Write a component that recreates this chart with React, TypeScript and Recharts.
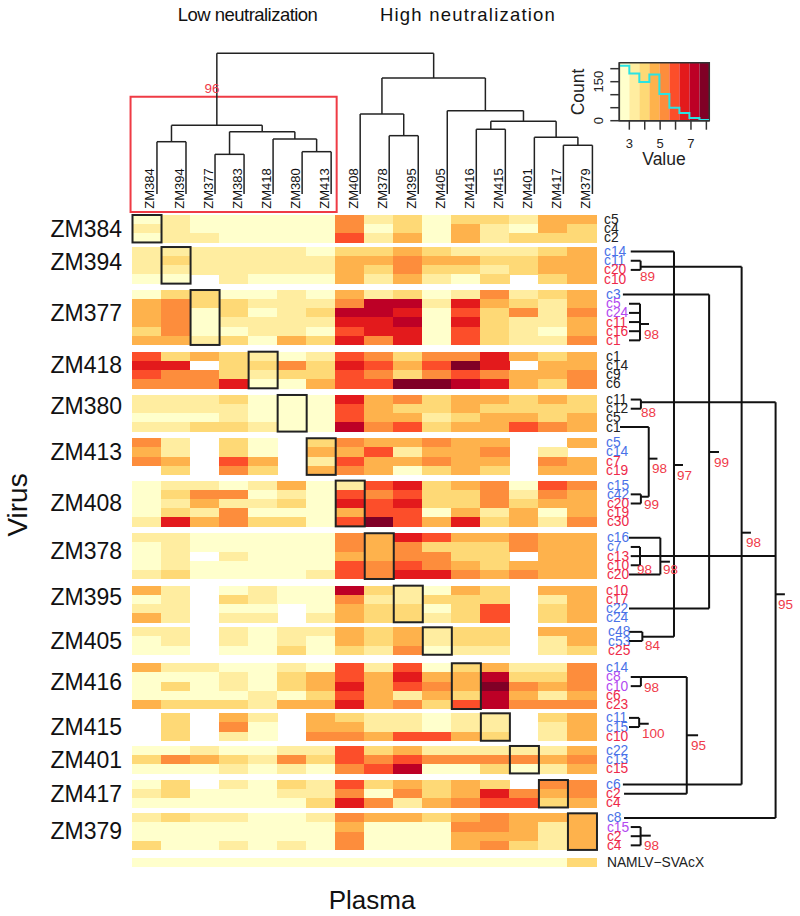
import {
  ComposedChart,
  Line,
  ReferenceArea,
  ReferenceLine,
  Scatter,
  ScatterChart,
  XAxis,
  YAxis,
} from "recharts";

const FONT = '"Liberation Sans", Arial, sans-serif';

// YlOrRd levels, 0 means no measurement (blank cell)
const LEVEL_COLORS = ["#ffffff", "#ffffcc", "#ffeda0", "#fed976", "#feb24c", "#fd8d3c", "#fc4e2a", "#e31a1c", "#bd0026", "#800026"];
const KIND_COLORS: Record<string, string> = { k: "#222222", b: "#4a72e8", r: "#ee2a4a", p: "#b34af0" };

const PLASMA = ["ZM384", "ZM394", "ZM377", "ZM383", "ZM418", "ZM380", "ZM413", "ZM408", "ZM378", "ZM395", "ZM405", "ZM416", "ZM415", "ZM401", "ZM417", "ZM379"];
const VIRUS = ["ZM384", "ZM394", "ZM377", "ZM418", "ZM380", "ZM413", "ZM408", "ZM378", "ZM395", "ZM405", "ZM416", "ZM415", "ZM401", "ZM417", "ZM379"];

const ZM384_VALUES = [
  [1, 2, 1, 1, 1, 1, 1, 5, 2, 3, 1, 3, 3, 2, 4, 4],
  [2, 2, 1, 1, 1, 1, 1, 5, 1, 3, 1, 4, 2, 1, 4, 3],
  [1, 2, 2, 1, 1, 1, 1, 6, 2, 4, 1, 4, 2, 3, 3, 3],
];
const ZM394_VALUES = [
  [2, 2, 2, 2, 2, 2, 1, 3, 3, 4, 3, 2, 2, 2, 3, 4],
  [2, 3, 2, 2, 2, 2, 2, 4, 4, 5, 4, 4, 3, 3, 4, 4],
  [2, 2, 2, 2, 2, 2, 2, 4, 3, 5, 3, 3, 2, 3, 4, 4],
  [1, 1, 0, 2, 1, 1, 1, 4, 2, 4, 2, 1, 3, 0, 3, 4],
];
const ZM377_VALUES = [
  [1, 3, 3, 1, 1, 2, 1, 4, 2, 3, 1, 2, 5, 2, 3, 4],
  [4, 5, 3, 3, 2, 2, 2, 5, 8, 8, 2, 7, 4, 3, 2, 4],
  [4, 5, 1, 3, 1, 2, 3, 8, 8, 7, 1, 6, 3, 5, 2, 5],
  [4, 5, 1, 2, 2, 2, 2, 7, 7, 8, 1, 7, 3, 2, 2, 4],
  [3, 5, 1, 1, 2, 2, 1, 6, 7, 7, 1, 6, 3, 2, 1, 4],
  [4, 4, 2, 3, 1, 4, 3, 7, 5, 7, 1, 6, 3, 2, 2, 5],
];
const ZM418_VALUES = [
  [6, 3, 4, 3, 2, 1, 2, 6, 5, 3, 5, 5, 7, 4, 3, 4],
  [7, 7, 0, 3, 3, 5, 3, 7, 6, 4, 6, 9, 7, 0, 4, 4],
  [6, 5, 5, 3, 2, 3, 3, 6, 5, 3, 5, 6, 5, 4, 4, 5],
  [5, 5, 5, 7, 1, 1, 4, 6, 6, 9, 9, 8, 7, 4, 3, 5],
];
const ZM380_VALUES = [
  [2, 2, 2, 3, 1, 1, 1, 7, 4, 5, 3, 4, 4, 3, 4, 3],
  [2, 2, 2, 2, 1, 1, 1, 6, 4, 3, 3, 4, 3, 3, 3, 3],
  [1, 1, 1, 2, 1, 1, 1, 6, 4, 4, 2, 3, 4, 4, 3, 4],
  [2, 2, 3, 3, 2, 1, 1, 8, 5, 6, 3, 4, 4, 6, 5, 4],
];
const ZM413_VALUES = [
  [5, 2, 0, 3, 1, 0, 3, 5, 4, 4, 5, 4, 4, 0, 0, 4],
  [4, 2, 0, 3, 1, 0, 4, 4, 6, 2, 4, 4, 5, 0, 2, 0],
  [5, 4, 0, 6, 4, 0, 2, 6, 4, 4, 5, 4, 4, 0, 5, 4],
  [0, 3, 0, 5, 3, 0, 4, 5, 4, 1, 3, 4, 3, 0, 4, 4],
];
const ZM408_VALUES = [
  [1, 2, 2, 1, 2, 4, 1, 2, 6, 7, 3, 4, 5, 1, 6, 5],
  [1, 3, 5, 5, 1, 2, 1, 6, 5, 6, 3, 3, 5, 2, 5, 4],
  [1, 2, 4, 2, 2, 3, 1, 7, 6, 7, 3, 3, 5, 3, 4, 4],
  [1, 3, 2, 5, 1, 1, 1, 4, 6, 6, 1, 4, 2, 4, 1, 4],
  [2, 7, 4, 5, 3, 3, 1, 6, 9, 6, 4, 7, 3, 4, 2, 5],
];
const ZM378_VALUES = [
  [2, 2, 1, 1, 1, 1, 1, 5, 4, 7, 6, 4, 4, 5, 4, 4],
  [1, 2, 1, 1, 1, 1, 1, 5, 4, 5, 3, 3, 3, 5, 4, 4],
  [1, 2, 0, 2, 1, 1, 1, 4, 4, 5, 5, 3, 3, 0, 4, 4],
  [1, 2, 1, 1, 1, 1, 1, 6, 5, 6, 5, 4, 3, 4, 4, 4],
  [2, 3, 1, 1, 1, 1, 2, 6, 5, 7, 7, 5, 4, 5, 4, 4],
];
const ZM395_VALUES = [
  [4, 2, 0, 1, 2, 1, 1, 8, 3, 2, 1, 4, 3, 0, 4, 4],
  [1, 2, 0, 3, 2, 1, 1, 5, 2, 2, 3, 3, 3, 0, 2, 4],
  [2, 2, 0, 1, 1, 0, 1, 4, 3, 3, 1, 3, 6, 0, 3, 4],
  [4, 2, 0, 2, 2, 0, 2, 4, 3, 3, 2, 3, 6, 0, 3, 4],
];
const ZM405_VALUES = [
  [2, 2, 0, 2, 1, 2, 2, 4, 3, 4, 2, 3, 3, 0, 4, 4],
  [1, 2, 0, 2, 1, 2, 1, 4, 3, 4, 2, 3, 3, 0, 2, 4],
  [1, 1, 0, 1, 1, 3, 1, 3, 2, 5, 1, 2, 2, 0, 2, 3],
];
const ZM416_VALUES = [
  [4, 2, 2, 1, 1, 2, 1, 6, 2, 6, 1, 3, 4, 2, 2, 5],
  [1, 1, 1, 2, 1, 3, 4, 6, 4, 7, 4, 4, 8, 3, 3, 5],
  [1, 3, 1, 2, 1, 3, 4, 7, 4, 6, 5, 4, 9, 5, 4, 5],
  [1, 1, 1, 1, 2, 1, 3, 6, 4, 2, 4, 3, 8, 4, 2, 4],
  [4, 3, 3, 3, 2, 4, 4, 7, 4, 5, 3, 6, 8, 5, 5, 5],
];
const ZM415_VALUES = [
  [0, 3, 0, 4, 2, 0, 4, 3, 2, 2, 1, 2, 2, 0, 3, 4],
  [0, 3, 0, 5, 1, 0, 4, 4, 2, 2, 1, 2, 2, 0, 2, 4],
  [0, 3, 0, 2, 1, 0, 5, 5, 4, 6, 6, 4, 3, 0, 2, 4],
];
const ZM401_VALUES = [
  [1, 1, 2, 1, 1, 2, 2, 6, 3, 4, 2, 2, 2, 2, 2, 4],
  [3, 5, 4, 3, 2, 5, 3, 6, 5, 6, 5, 5, 5, 5, 4, 5],
  [1, 1, 1, 2, 1, 2, 1, 5, 6, 8, 1, 1, 3, 1, 2, 4],
];
const ZM417_VALUES = [
  [1, 3, 0, 2, 1, 3, 2, 6, 3, 4, 3, 4, 3, 0, 5, 5],
  [2, 3, 1, 1, 1, 2, 2, 5, 1, 5, 3, 4, 7, 5, 4, 5],
  [1, 1, 1, 1, 1, 1, 3, 7, 5, 2, 4, 5, 6, 6, 3, 4],
];
const ZM379_VALUES = [
  [2, 3, 2, 2, 1, 1, 2, 5, 4, 4, 3, 4, 5, 4, 4, 4],
  [1, 1, 1, 1, 1, 1, 1, 4, 1, 1, 1, 5, 5, 4, 2, 4],
  [1, 1, 1, 1, 1, 1, 1, 5, 1, 1, 1, 4, 4, 4, 2, 4],
  [3, 1, 1, 2, 1, 2, 1, 5, 1, 1, 1, 4, 5, 3, 2, 4],
];
const CONTROL_VALUES = [[1, 1, 1, 1, 1, 1, 1, 1, 1, 1, 1, 1, 1, 1, 1, 3]];

const GROUP_VALUES = [
  ZM384_VALUES, ZM394_VALUES, ZM377_VALUES, ZM418_VALUES, ZM380_VALUES, ZM413_VALUES, ZM408_VALUES, ZM378_VALUES,
  ZM395_VALUES, ZM405_VALUES, ZM416_VALUES, ZM415_VALUES, ZM401_VALUES, ZM417_VALUES, ZM379_VALUES, CONTROL_VALUES,
];

const CLONES = [
  ["c5", "c4", "c2"],
  ["c14", "c11", "c20", "c10"],
  ["c3", "c5", "c24", "c11", "c16", "c1"],
  ["c1", "c14", "c9", "c6"],
  ["c11", "c12", "c5", "c1"],
  ["c5", "c14", "c7", "c19"],
  ["c15", "c42", "c20", "c19", "c30"],
  ["c16", "c7", "c13", "c10", "c20"],
  ["c10", "c17", "c22", "c24"],
  ["c48", "c53", "c25"],
  ["c14", "c8", "c10", "c6", "c23"],
  ["c11", "c15", "c10"],
  ["c22", "c13", "c15"],
  ["c6", "c2", "c4"],
  ["c8", "c15", "c2", "c4"],
  ["NAMLV\u2212SVAcX"],
];
const CLONE_KINDS = ["kkk", "bbrr", "bpprrr", "kkkk", "kkkk", "bbrr", "bbrrr", "bbrrr", "rrbb", "bbr", "bpprr", "bbr", "bbr", "brr", "bprr", "k"];
const CLONE_INDENT = [-0.07, -0.07, 0, 0, 0, 0, 0.03, 0.03, 0, 0.07, 0, 0, 0, 0, 0.03, 0.03];

// gap before each group, in rows
const GROUP_GAPS = [0, 0.5, 0.7, 0.74, 0.73, 0.73, 0.63, 0.75, 0.73, 0.55, 0.93, 0.47, 0.57, 0.72, 0.64, 0.85];
// the virus names sit a little above the middle of some groups
const VIRUS_LABEL_SHIFT = [0, -0.4, -0.5, -0.55, -0.8, -0.5, 0, -0.55, -0.75, 0, -0.45, 0, 0, 0, -0.1];

// column dendrogram, hclust style: >=0 is a leaf, <0 is an earlier merge; h is on the row axis
const COLUMN_MERGES = [
  { a: 0, b: 1, h: -8.01 },
  { a: 2, b: 3, h: -6.63 },
  { a: 5, b: 6, h: -6.92 },
  { a: 4, b: -3, h: -8.31 },
  { a: -2, b: -4, h: -9.1 },
  { a: -1, b: -5, h: -9.8 },
  { a: 8, b: 9, h: -8.67 },
  { a: 7, b: -7, h: -11.04 },
  { a: 11, b: 12, h: -9.37 },
  { a: 14, b: 15, h: -7.62 },
  { a: 13, b: -10, h: -8.49 },
  { a: -9, b: -11, h: -10.24 },
  { a: 10, b: -12, h: -11.4 },
  { a: -8, b: -13, h: -14.97 },
  { a: -6, b: -14, h: -17.67 },
];

// row dendrogram clades. rows: [group, row, tip start]; spine and stem end are on the column axis
const ROW_CLADES = [
  { rows: [[1, 1, 17.18], [1, 2, 17.18]], spine: 17.52, stemY: 5.65, stemEnd: 21.0, label: "89", labelX: 17.5 },
  { rows: [[9, 0, 17.12], [9, 1, 17.12]], spine: 17.58, stemY: 46.09, stemEnd: 18.67, label: "84", labelX: 17.67, labelDy: 1.0 },
  { rows: [[1, 0, 17.18]], spine: 18.67, stemY: 27.32, stemEnd: 18.98, label: "97", labelX: 18.77, spanTo: 46.09 },
  { rows: [[2, 0, 16.91], [8, 2, 17.12]], spine: 19.88, stemY: 25.9, stemEnd: 20.22, label: "99", labelX: 20.05 },
  { rows: [[2, 1, 17.12], [2, 2, 17.12], [2, 3, 17.12], [2, 4, 17.12], [2, 5, 17.12]], spine: 17.5, stemY: 11.91, stemEnd: 17.81, label: "98", labelX: 17.64 },
  { rows: [[4, 0, 17.18], [4, 1, 17.18]], spine: 17.53, stemY: 20.47, stemEnd: 22.17, label: "88", labelX: 17.53 },
  { rows: [[4, 3, 16.81]], spine: 17.8, stemY: 26.63, stemEnd: 18.1, label: "98", labelX: 17.91, spanTo: 30.79 },
  { rows: [[6, 1, 17.18], [6, 2, 17.18]], spine: 17.53, stemY: 30.79, stemEnd: 17.8, label: "99", labelX: 17.64, labelDy: 0.8 },
  { rows: [[7, 0, 17.12], [7, 4, 17.12]], spine: 18.2, stemY: 37.89, stemEnd: 18.53, label: "98", labelX: 18.29, labelDy: 0.8 },
  { rows: [[7, 1, 17.18], [7, 2, 17.18], [7, 3, 17.18]], spine: 17.5, stemY: 37.27, stemEnd: 22.17, label: "98", labelX: 17.4, labelDy: 1.42 },
  { rows: [[10, 1, 17.18], [10, 2, 17.18]], spine: 17.53, stemY: 50.49, stemEnd: 19.11, label: "98", labelX: 17.64 },
  { rows: [[13, 1, 16.95]], spine: 19.11, stemY: 56.86, stemEnd: 19.5, label: "95", labelX: 19.26, spanTo: 50.49 },
  { rows: [[11, 0, 17.12], [11, 1, 17.12]], spine: 17.47, stemY: 55.6, stemEnd: 17.8, label: "100", labelX: 17.57 },
  { rows: [[14, 1, 17.18], [14, 2, 17.18], [14, 3, 17.18]], spine: 17.52, stemY: 67.83, stemEnd: 17.87, label: "98", labelX: 17.64 },
  { rows: [[13, 0, 16.91]], spine: 21.0, stemY: 34.72, stemEnd: 21.32, label: "98", labelX: 21.15, spanTo: 5.65 },
  { rows: [[14, 0, 16.95]], spine: 22.17, stemY: 41.45, stemEnd: 22.49, label: "95", labelX: 22.25, spanTo: 20.47 },
];

// color key histogram
const KEY_BREAKS = [2.35, 3, 3.65, 4.3, 4.95, 5.6, 6.25, 6.9, 7.55, 8.19];
const KEY_COUNTS = [211, 181, 149, 178, 103, 50, 30, 10, 3, 3];
const KEY_X_TICKS = [3, 4, 5, 6, 7, 8];
const KEY_Y_TICKS = [0, 50, 100, 150, 200];

// one axis unit is a heatmap column across and a heatmap row down
const COL_PX = 29.03;
const ROW_PX = 9.15;
const X_DOMAIN = [-132 / COL_PX, (800 - 132) / COL_PX];
const Y_DOMAIN = [-215 / ROW_PX, (916 - 215) / ROW_PX];

const groupTops: number[] = [];
GROUP_VALUES.reduce((top, rows, g) => {
  groupTops.push(top + GROUP_GAPS[g]);
  return top + GROUP_GAPS[g] + rows.length;
}, 0);
const rowY = (g: number, r: number) => groupTops[g] + r + 0.5;

const cells = GROUP_VALUES.flatMap((rows, g) =>
  rows.flatMap((values, r) =>
    values.flatMap((level, c) => (level > 0 ? [{ x: c + 0.5, y: rowY(g, r), level }] : [])),
  ),
);

// black frame round the autologous plasma of each virus
const selfBoxes = VIRUS.map((name, g) => ({
  x: PLASMA.indexOf(name) + 0.5,
  y: groupTops[g] + GROUP_VALUES[g].length / 2,
  rows: GROUP_VALUES[g].length,
}));

const cloneLabels = CLONES.flatMap((names, g) =>
  names.map((text, r) => ({ x: 16.33 + CLONE_INDENT[g], y: rowY(g, r), text, color: KIND_COLORS[CLONE_KINDS[g][r]] })),
);
const virusLabels = VIRUS.map((text, g) => ({
  x: -0.34,
  y: groupTops[g] + GROUP_VALUES[g].length / 2 + VIRUS_LABEL_SHIFT[g],
  text,
}));
const plasmaLabels = PLASMA.map((text, c) => ({ x: c + 0.62, y: -0.68, text }));
const cladeLabels = ROW_CLADES.map((cl) => ({ x: cl.labelX, y: cl.stemY + (cl.labelDy ?? 1.1), text: cl.label }));

// every dendrogram branch as a segment in axis units
type Seg = { x1: number; y1: number; x2: number; y2: number };
const LEAF_SHIFT = 0.86;
const LEAF_BOTTOM = -2.3;
const nodes: { x: number; y: number }[] = [];
const columnSegs: Seg[] = [];
COLUMN_MERGES.forEach(({ a, b, h }) => {
  const end = (id: number) => (id >= 0 ? { x: id + LEAF_SHIFT, y: LEAF_BOTTOM } : nodes[-id - 1]);
  const p = end(a);
  const q = end(b);
  columnSegs.push({ x1: p.x, y1: p.y, x2: p.x, y2: h }, { x1: p.x, y1: h, x2: q.x, y2: h }, { x1: q.x, y1: q.y, x2: q.x, y2: h });
  nodes.push({ x: (p.x + q.x) / 2, y: h });
});

const rowSegs: Seg[] = ROW_CLADES.flatMap((cl) => {
  const ys = cl.rows.map(([g, r]) => rowY(g, r));
  if (cl.spanTo !== undefined) ys.push(cl.spanTo);
  return [
    ...cl.rows.map(([g, r, tip]) => ({ x1: tip, y1: rowY(g, r), x2: cl.spine, y2: rowY(g, r) })),
    { x1: cl.spine, y1: Math.min(...ys), x2: cl.spine, y2: Math.max(...ys) },
    { x1: cl.spine, y1: cl.stemY, x2: cl.stemEnd, y2: cl.stemY },
  ];
});

const keyData = KEY_BREAKS.map((x, i) => ({ x, count: KEY_COUNTS[i] }));

function HeatCell(props: any) {
  return (
    <rect
      x={props.cx - COL_PX / 2}
      y={props.cy - ROW_PX / 2}
      width={COL_PX + 0.4}
      height={ROW_PX + 0.4}
      fill={LEVEL_COLORS[props.payload.level]}
      shapeRendering="crispEdges"
    />
  );
}

function SelfBox(props: any) {
  const h = props.payload.rows * ROW_PX;
  return (
    <rect x={props.cx - COL_PX / 2 + 0.5} y={props.cy - h / 2} width={COL_PX} height={h} fill="none" stroke="#222" strokeWidth={2} />
  );
}

const textMark =
  (size: number, anchor: "start" | "middle" | "end", color: string, rotate = 0) =>
  (props: any) => (
    <text
      x={props.cx}
      y={props.cy}
      fontSize={size}
      fontFamily={FONT}
      textAnchor={anchor}
      dominantBaseline="central"
      fill={props.payload.color ?? color}
      textLength={props.payload.length}
      transform={rotate ? `rotate(${rotate} ${props.cx} ${props.cy})` : undefined}
    >
      {props.payload.text}
    </text>
  );

function KeyYTick(props: any) {
  const { x, y, payload } = props;
  const show = payload.value === 0 || payload.value === 150;
  return show ? (
    <text x={x - 3} y={y} fontSize={13} fontFamily={FONT} fill="#222" textAnchor="middle" transform={`rotate(-90 ${x - 3} ${y})`}>
      {payload.value}
    </text>
  ) : null;
}

function ColorKey() {
  return (
    <ComposedChart
      width={190}
      height={130}
      data={keyData}
      margin={{ top: 22.7, right: 40.7, bottom: 19.3, left: 29.3 }}
      style={{ position: "absolute", left: 560, top: 40 }}
    >
      {LEVEL_COLORS.slice(1).map((fill, i) => (
        <ReferenceArea key={fill} x1={KEY_BREAKS[i]} x2={KEY_BREAKS[i + 1]} y1={0} y2={223} fill={fill} fillOpacity={1} stroke="none" />
      ))}
      <XAxis
        type="number"
        dataKey="x"
        domain={[2.35, 8.19]}
        allowDataOverflow
        ticks={KEY_X_TICKS}
        interval={0}
        height={30}
        tickSize={9}
        tickMargin={9}
        tickFormatter={(v) => (v % 2 === 1 ? String(v) : "")}
        tick={{ fontSize: 13, fontFamily: FONT, fill: "#222" }}
        tickLine={{ stroke: "#333", strokeWidth: 1.5 }}
        axisLine={{ stroke: "#333", strokeWidth: 1.5 }}
      />
      <YAxis
        type="number"
        domain={[0, 223]}
        allowDataOverflow
        ticks={KEY_Y_TICKS}
        interval={0}
        width={30}
        tickSize={9}
        tickMargin={4}
        tick={<KeyYTick />}
        tickLine={{ stroke: "#333", strokeWidth: 1.5 }}
        axisLine={{ stroke: "#333", strokeWidth: 1.5 }}
      />
      <Line type="stepAfter" dataKey="count" stroke="#2be3e3" strokeWidth={2} dot={false} isAnimationActive={false} />
      <ReferenceArea x1={2.35} x2={8.19} y1={0} y2={223} fill="none" stroke="#333" strokeWidth={1.5} />
      <text x={24} y={52} fontSize={17.5} fontFamily={FONT} fill="#222" textAnchor="middle" transform="rotate(-90 24 52)">
        Count
      </text>
      <text x={104} y={125} fontSize={17.5} fontFamily={FONT} fill="#222" textAnchor="middle">
        Value
      </text>
    </ComposedChart>
  );
}

export default function App() {
  return (
    <div style={{ position: "absolute", left: 0, top: 0, width: 800, height: 916, background: "#fff" }}>
      <ScatterChart width={800} height={916} margin={{ top: 0, right: 0, bottom: 0, left: 0 }}>
        <XAxis type="number" dataKey="x" domain={X_DOMAIN} allowDataOverflow hide />
        <YAxis type="number" dataKey="y" domain={Y_DOMAIN} allowDataOverflow reversed hide />
        <Scatter data={cells} shape={HeatCell} isAnimationActive={false} />
        <Scatter data={selfBoxes} shape={SelfBox} isAnimationActive={false} />
        <ReferenceArea x1={-0.05} x2={7.05} y1={-12.93} y2={-0.33} fill="none" stroke="#ef3b45" strokeWidth={2} />
        {columnSegs.map((s, i) => (
          <ReferenceLine key={i} segment={[{ x: s.x1, y: s.y1 }, { x: s.x2, y: s.y2 }]} stroke="#222" strokeWidth={1.5} />
        ))}
        {rowSegs.map((s, i) => (
          <ReferenceLine key={i} segment={[{ x: s.x1, y: s.y1 }, { x: s.x2, y: s.y2 }]} stroke="#111" strokeWidth={2} />
        ))}
        <Scatter data={cloneLabels} shape={textMark(13.8, "start", "#222")} isAnimationActive={false} />
        <Scatter data={virusLabels} shape={textMark(23, "end", "#111")} isAnimationActive={false} />
        <Scatter data={plasmaLabels} shape={textMark(13, "start", "#111", -90)} isAnimationActive={false} />
        <Scatter data={cladeLabels} shape={textMark(13.5, "start", "#ef3b4a")} isAnimationActive={false} />
        <Scatter data={[{ x: 2.5, y: -13.8, text: "96" }]} shape={textMark(13.5, "start", "#ef3b4a")} isAnimationActive={false} />
        <Scatter
          data={[
            { x: 1.58, y: -21.86, text: "Low neutralization", length: 140 },
            { x: 8.54, y: -21.86, text: "High neutralization", length: 175 },
          ]}
          shape={textMark(18.5, "start", "#111")}
          isAnimationActive={false}
        />
        <Scatter data={[{ x: 8.27, y: 74.86, text: "Plasma" }]} shape={textMark(26, "middle", "#111")} isAnimationActive={false} />
        <Scatter data={[{ x: -3.96, y: 31.69, text: "Virus" }]} shape={textMark(28, "middle", "#111", -90)} isAnimationActive={false} />
      </ScatterChart>
      <ColorKey />
    </div>
  );
}
